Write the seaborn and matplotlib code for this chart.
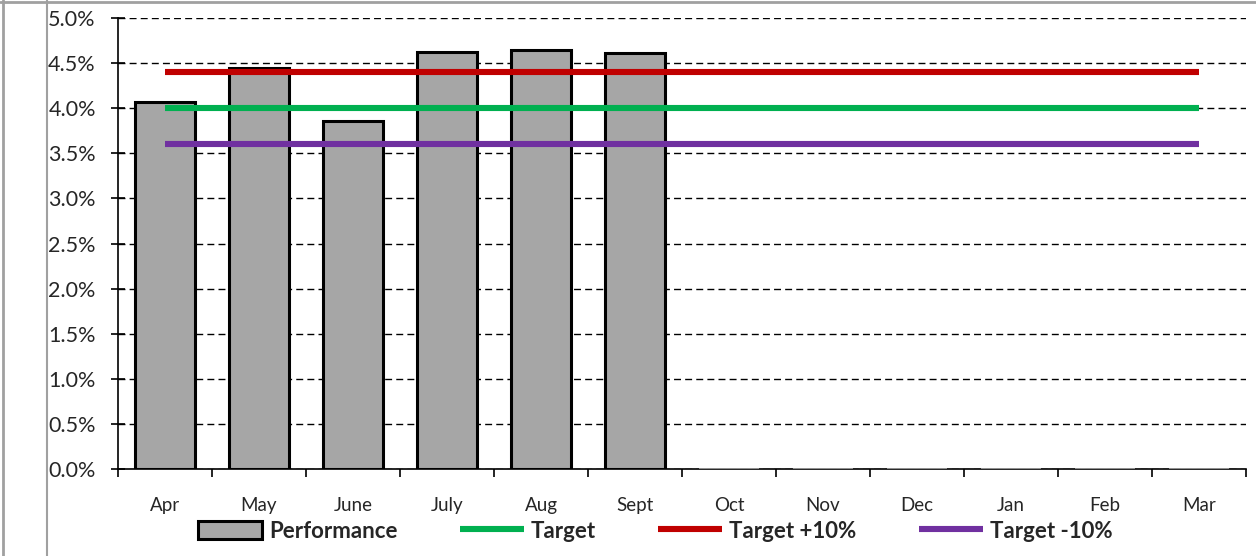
import matplotlib
matplotlib.use("Agg")
import matplotlib.pyplot as plt
from matplotlib.lines import Line2D
from matplotlib.patches import Patch
from matplotlib.ticker import FuncFormatter, MultipleLocator, FixedLocator
import seaborn as sns
import pandas as pd

months = ["Apr", "May", "June", "July", "Aug", "Sept",
          "Oct", "Nov", "Dec", "Jan", "Feb", "Mar"]
performance = [4.07, 4.45, 3.86, 4.62, 4.65, 4.61, 0, 0, 0, 0, 0, 0]
target = [4.0] * 12
target_plus = [4.4] * 12
target_minus = [3.6] * 12

sns.set_theme(style="white")
plt.rcParams["font.family"] = ["Lato", "DejaVu Sans"]

fig = plt.figure(figsize=(12.56, 5.56), dpi=100)
ax = fig.add_axes([118 / 1256, 1 - 469 / 556, 1128 / 1256, 451 / 556])

df = pd.DataFrame({"month": months, "performance": performance})
sns.barplot(data=df, x="month", y="performance", order=months, ax=ax,
            color="#A6A6A6", saturation=1, width=0.63,
            edgecolor="black", linewidth=2.2, zorder=3)
for p in ax.patches:
    if p.get_height() == 0:
        p.set_edgecolor("#A6A6A6")
        p.set_linewidth(1.2)

pos = list(range(len(months)))
ax.plot(pos, target, color="#00B050", lw=4.4, solid_capstyle="butt", zorder=4)
ax.plot(pos, target_plus, color="#C00000", lw=4.4, solid_capstyle="butt", zorder=4)
ax.plot(pos, target_minus, color="#7030A0", lw=4.4, solid_capstyle="butt", zorder=4)

ax.set_xlim(-0.5, 11.5)
ax.set_ylim(0, 5.0)
ax.yaxis.set_major_locator(MultipleLocator(0.5))
ax.yaxis.set_major_formatter(FuncFormatter(lambda v, _: f"{v:.1f}%"))
ax.yaxis.grid(True, color="black", linestyle=(0, (5, 3)), linewidth=1)
ax.set_axisbelow(True)
ax.set_xlabel("")
ax.set_ylabel("")

for s in ["top", "right"]:
    ax.spines[s].set_visible(False)
for s in ["left", "bottom"]:
    ax.spines[s].set_color("black")
    ax.spines[s].set_linewidth(1.2)

ax.tick_params(axis="y", which="major", direction="inout", length=10,
               width=1.2, color="black", labelsize=15.5, pad=11, left=True)
ax.tick_params(axis="x", which="major", length=0, labelsize=13.5, pad=20)
ax.xaxis.set_minor_locator(FixedLocator([i - 0.5 for i in range(13)]))
ax.tick_params(axis="x", which="minor", direction="out", length=6,
               width=1.2, color="black", bottom=True)

handles = [
    Patch(facecolor="#A6A6A6", edgecolor="black", linewidth=2.2),
    Line2D([], [], color="#00B050", lw=4.4, solid_capstyle="butt"),
    Line2D([], [], color="#C00000", lw=4.4, solid_capstyle="butt"),
    Line2D([], [], color="#7030A0", lw=4.4, solid_capstyle="butt"),
]
labels = ["Performance", "Target", "Target +10%", "Target -10%"]
fig.legend(handles, labels, loc="center", bbox_to_anchor=(655 / 1256, 1 - 531 / 556),
           ncol=4, frameon=False, prop={"weight": "bold", "size": 16},
           handlelength=2.9, handleheight=0.9, handletextpad=0.3,
           columnspacing=2.8)

border = "#A0A0A0"
fig.add_artist(Line2D([3 / 1256, 3 / 1256], [0, 1], color=border, lw=2))
fig.add_artist(Line2D([47 / 1256, 47 / 1256], [0, 1], color=border, lw=1.5))
fig.add_artist(Line2D([0, 1], [1 - 2 / 556, 1 - 2 / 556], color=border, lw=2))

fig.savefig("out.png", dpi=100)
